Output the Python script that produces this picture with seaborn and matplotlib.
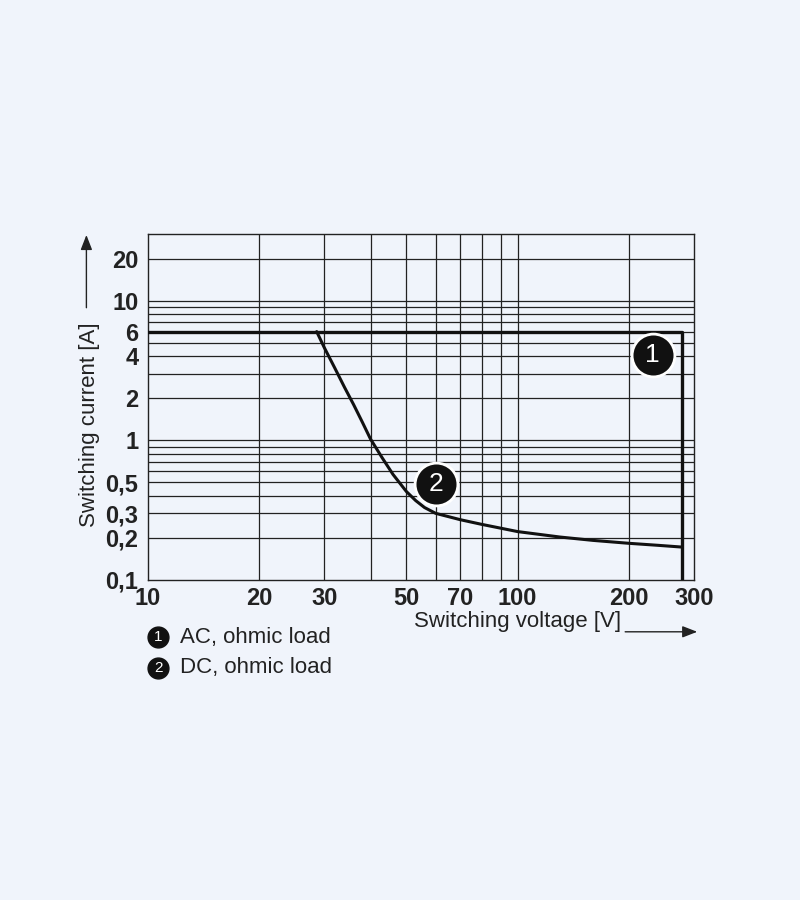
import matplotlib
matplotlib.use("Agg")
import matplotlib.pyplot as plt
import seaborn as sns
import pandas as pd

# curve 1: AC ohmic load
ac_v = [10, 278, 278]
ac_i = [6, 6, 0.1]
# curve 2: DC ohmic load
dc_v = [28.6, 30, 32, 34, 36, 38, 40, 43, 46, 50, 53, 56, 60, 70, 80, 100, 130, 160, 200, 240, 278]
dc_i = [6, 4.6, 3.3, 2.4, 1.8, 1.35, 1.02, 0.75, 0.57, 0.43, 0.37, 0.33, 0.30, 0.27, 0.25, 0.222, 0.203, 0.192, 0.183, 0.177, 0.172]

x_ticks = [10, 20, 30, 50, 70, 100, 200, 300]
y_ticks = [0.1, 0.2, 0.3, 0.5, 1, 2, 4, 6, 10, 20]
x_grid = [20, 30, 40, 50, 60, 70, 80, 90, 100, 200]
y_grid = [0.2, 0.3, 0.4, 0.5, 0.6, 0.7, 0.8, 0.9, 1, 2, 3, 4, 5, 6, 7, 8, 9, 10, 20]

bg = "#f0f4fb"
sns.set_style("white")
plt.rcParams['font.family'] = ['Liberation Sans', 'DejaVu Sans']

fig = plt.figure(figsize=(8, 9), dpi=100, facecolor=bg)
ax = fig.add_axes([0.185, 0.3556, 0.6825, 0.3844])
ax.set_facecolor(bg)
ax.set_xscale("log")
ax.set_yscale("log")
ax.set_xlim(10, 300)
ax.set_ylim(0.1, 30)

for v in x_grid:
    ax.axvline(v, color="#222222", lw=0.9, zorder=1)
for v in y_grid:
    ax.axhline(v, color="#222222", lw=0.9, zorder=1)

sns.lineplot(data=pd.DataFrame({"v": ac_v, "i": ac_i}), x="v", y="i", sort=False,
             estimator=None, color="#111111", lw=2.4, ax=ax, zorder=3)
sns.lineplot(data=pd.DataFrame({"v": dc_v, "i": dc_i}), x="v", y="i", sort=False,
             estimator=None, color="#111111", lw=2.2, ax=ax, zorder=3)

def fmt(v):
    return ("%g" % v).replace(".", ",")

ax.set_xticks(x_ticks)
ax.set_xticklabels([fmt(v) for v in x_ticks])
ax.set_yticks(y_ticks)
ax.set_yticklabels([fmt(v) for v in y_ticks])
ax.minorticks_off()
ax.tick_params(length=0, labelsize=17, colors="#222222")
ax.tick_params(axis="x", pad=5)
ax.tick_params(axis="y", pad=7)
for lab in ax.get_xticklabels() + ax.get_yticklabels():
    lab.set_fontweight("bold")
for s in ax.spines.values():
    s.set_color("#222222")
    s.set_linewidth(1)
ax.set_xlabel("")
ax.set_ylabel("")

# numbered markers
for xv, yv, t in [(232, 4.1, "1"), (60, 0.49, "2")]:
    ax.scatter([xv], [yv], s=950, color="#111111", edgecolor="white", lw=2, zorder=5)
    ax.text(xv, yv, t, color="white", fontsize=19, ha="center", va="center", zorder=6)

# axis titles with arrows
fig.text(0.518, 0.309, "Switching voltage [V]", fontsize=16, color="#222222", va="center")
fig.add_artist(matplotlib.patches.FancyArrowPatch((0.778, 0.298), (0.875, 0.298),
               transform=fig.transFigure, arrowstyle="-|>,head_length=9,head_width=3.5",
               color="#222222", lw=1))
fig.text(0.112, 0.528, "Switching current [A]", fontsize=16, color="#222222",
         rotation=90, ha="center", va="center")
fig.add_artist(matplotlib.patches.FancyArrowPatch((0.108, 0.655), (0.108, 0.742),
               transform=fig.transFigure, arrowstyle="-|>,head_length=9,head_width=3.5",
               color="#222222", lw=1))

# legend
for yy, t, lab in [(0.292, "1", "AC, ohmic load"), (0.258, "2", "DC, ohmic load")]:
    fig.add_artist(matplotlib.lines.Line2D([0.198], [yy], marker="o", markersize=15,
                   color="#111111", transform=fig.transFigure))
    fig.text(0.198, yy, t, color="white", fontsize=11, ha="center", va="center")
    fig.text(0.225, yy, lab, fontsize=16, color="#222222", va="center")

fig.savefig("out.png", facecolor=bg)
